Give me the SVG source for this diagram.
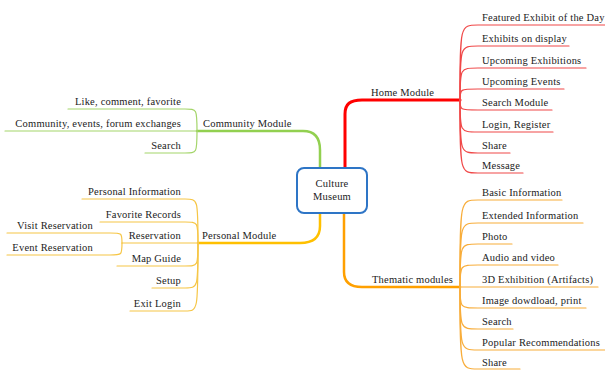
<svg xmlns="http://www.w3.org/2000/svg" width="605" height="371" viewBox="0 0 605 371">
<style>
text{font-family:"Liberation Serif","Times New Roman",serif;font-size:10.5px;letter-spacing:0.2px;fill:#222}
.r{text-anchor:end}
.m{text-anchor:middle}
path{fill:none;stroke-linecap:round}
.red{stroke:#ff0000;stroke-width:3}
.redc{stroke:#f04848;stroke-width:1.2}
.grn{stroke:#92d050;stroke-width:2.5}
.grnc{stroke:#a4d56a;stroke-width:1.2}
.gld{stroke:#ffc000;stroke-width:2.5}
.gldc{stroke:#f6c646;stroke-width:1.2}
.org{stroke:#ffa000;stroke-width:2.5}
.orgc{stroke:#f8ad3a;stroke-width:1.2}
</style>
<rect width="605" height="371" fill="#ffffff"/>
<g id="connectors">
<path class="red" d="M345,168 L345,114 C345,104 350,100 362,100 L460,100"/>
<g class="redc">
<path d="M460,100 C460,25 460,25 478,25 L605,25"/>
<path d="M460,100 C460,46 460,46 478,46 L569,46"/>
<path d="M460,100 C460,68 460,68 478,68 L586,68"/>
<path d="M460,100 C460,89 460,89 478,89 L564,89"/>
<path d="M460,100 C460,110 460,110 478,110 L552,110"/>
<path d="M460,100 C460,132 460,132 478,132 L553,132"/>
<path d="M460,100 C460,153 460,153 478,153 L510,153"/>
<path d="M460,100 C460,173 460,173 478,173 L523,173"/>
</g>
<path class="org" d="M344,213 L344,272 C344,282 350,287 362,287 L460,287"/>
<g class="orgc">
<path d="M460,287 C460,200 460,200 478,200 L562,200"/>
<path d="M460,287 C460,223 460,223 478,223 L583,223"/>
<path d="M460,287 C460,244 460,244 478,244 L512,244"/>
<path d="M460,287 C460,265 460,265 478,265 L558,265"/>
<path d="M460,287 L598,287"/>
<path d="M460,287 C460,308 460,308 478,308 L586,308"/>
<path d="M460,287 C460,329 460,329 478,329 L513,329"/>
<path d="M460,287 C460,350 460,350 478,350 L605,350"/>
<path d="M460,287 C460,369 460,369 478,369 L520,369"/>
</g>
<path class="grn" d="M320,168 L320,150 C320,138 315,131 303,131 L197,131"/>
<g class="grnc">
<path d="M197,131 C197,109 197,109 185,109 L68,109"/>
<path d="M197,131 L5,131"/>
<path d="M197,131 C197,153 197,153 185,153 L145,153"/>
</g>
<path class="gld" d="M320,213 L320,226 C320,238 312,243 300,243 L198,243"/>
<g class="gldc">
<path d="M198,243 C198,199 198,199 185,199 L82,199"/>
<path d="M198,243 C198,222 198,222 185,222 L100,222"/>
<path d="M198,243 L122,243"/>
<path d="M198,243 C198,266 198,266 185,266 L117,266"/>
<path d="M198,243 C198,288 198,288 185,288 L152,288"/>
<path d="M198,243 C198,311 198,311 185,311 L130,311"/>
<path d="M122,243 C122,233 122,233 110,233 L7,233"/>
<path d="M122,243 C122,255 122,255 110,255 L7,255"/>
</g>
</g>
<g id="center">
<rect x="297" y="168" width="70" height="45" rx="7" fill="#ffffff" stroke="#2e75c6" stroke-width="2"/>
<text class="m" x="332" y="187">Culture</text>
<text class="m" x="332" y="200">Museum</text>
</g>
<g id="home"><text x="371" y="96">Home Module</text></g>
<g id="home-children">
<text x="482" y="21">Featured Exhibit of the Day</text>
<text x="482" y="42">Exhibits on display</text>
<text x="482" y="64">Upcoming Exhibitions</text>
<text x="482" y="85">Upcoming Events</text>
<text x="482" y="106">Search Module</text>
<text x="482" y="128">Login, Register</text>
<text x="482" y="149">Share</text>
<text x="482" y="169">Message</text>
</g>
<g id="thematic"><text x="372" y="283">Thematic modules</text></g>
<g id="thematic-children">
<text x="482" y="196">Basic Information</text>
<text x="482" y="219">Extended Information</text>
<text x="482" y="240">Photo</text>
<text x="482" y="261">Audio and video</text>
<text x="482" y="283">3D Exhibition (Artifacts)</text>
<text x="482" y="304">Image dowdload, print</text>
<text x="482" y="325">Search</text>
<text x="482" y="346">Popular Recommendations</text>
<text x="482" y="366">Share</text>
</g>
<g id="community"><text x="203" y="127">Community Module</text></g>
<g id="community-children">
<text class="r" x="181" y="105">Like, comment, favorite</text>
<text class="r" x="181" y="127">Community, events, forum exchanges</text>
<text class="r" x="181" y="149">Search</text>
</g>
<g id="personal"><text x="202" y="239">Personal Module</text></g>
<g id="personal-children">
<text class="r" x="181" y="195">Personal Information</text>
<text class="r" x="181" y="218">Favorite Records</text>
<text class="r" x="181" y="239">Reservation</text>
<text class="r" x="181" y="262">Map Guide</text>
<text class="r" x="181" y="284">Setup</text>
<text class="r" x="181" y="307">Exit Login</text>
<text class="r" x="93" y="229">Visit Reservation</text>
<text class="r" x="93" y="251">Event Reservation</text>
</g>
</svg>
